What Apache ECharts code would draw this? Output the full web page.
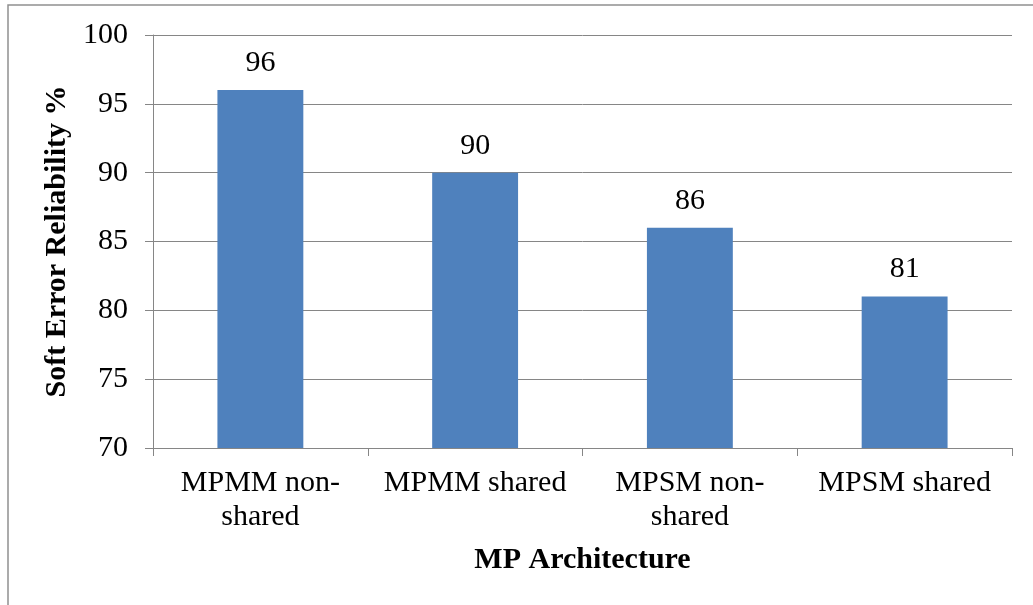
<!DOCTYPE html>
<html>
<head>
<meta charset="utf-8">
<script src="https://cdn.jsdelivr.net/npm/echarts@6/dist/echarts.min.js"></script>
<style>
  html, body { margin: 0; padding: 0; background: #fff; }
  #chart { width: 1033px; height: 605px; }
</style>
</head>
<body>
<div id="chart"></div>
<script>
// Soft error reliability per multiprocessor architecture
const categories = ['MPMM non-\nshared', 'MPMM shared', 'MPSM non-\nshared', 'MPSM shared'];
const reliability = [96, 90, 86, 81];
const yTicks = { min: 70, max: 100, interval: 5 };

const FONT = '"Liberation Serif", "Times New Roman", serif';
const GRAY = '#868686';

const chart = echarts.init(document.getElementById('chart'));
chart.setOption({
  backgroundColor: '#fff',
  animation: false,
  graphic: [{
    type: 'rect',
    shape: { x: 8, y: 5, width: 1200, height: 800 },
    style: { fill: 'none', stroke: '#909090', lineWidth: 1.5 },
    silent: true
  }],
  grid: { left: 153, right: 21, top: 35, bottom: 157 },
  xAxis: {
    type: 'category',
    data: categories,
    name: 'MP Architecture',
    nameLocation: 'middle',
    nameGap: 97,
    nameTextStyle: { fontFamily: FONT, fontSize: 30, fontWeight: 'bold', color: '#000' },
    axisLine: { lineStyle: { color: GRAY, width: 1 } },
    axisTick: { show: true, length: 8, lineStyle: { color: GRAY } },
    axisLabel: { fontFamily: FONT, fontSize: 30, color: '#000', margin: 18, lineHeight: 34, interval: 0 }
  },
  yAxis: {
    type: 'value',
    min: yTicks.min,
    max: yTicks.max,
    interval: yTicks.interval,
    name: 'Soft Error Reliability %',
    nameLocation: 'middle',
    nameGap: 81,
    nameRotate: 90,
    nameTextStyle: { fontFamily: FONT, fontSize: 30, fontWeight: 'bold', color: '#000' },
    axisLine: { show: true, lineStyle: { color: GRAY, width: 1 } },
    axisTick: { show: true, length: 8, lineStyle: { color: GRAY } },
    axisLabel: { fontFamily: FONT, fontSize: 30, color: '#000', margin: 25 },
    splitLine: { show: true, lineStyle: { color: GRAY, width: 1 } }
  },
  series: [{
    type: 'bar',
    data: reliability,
    barWidth: '40%',
    itemStyle: { color: '#4F81BD' },
    label: {
      show: true,
      position: 'top',
      distance: 12,
      fontFamily: FONT,
      fontSize: 30,
      color: '#000'
    }
  }]
});
</script>
</body>
</html>
